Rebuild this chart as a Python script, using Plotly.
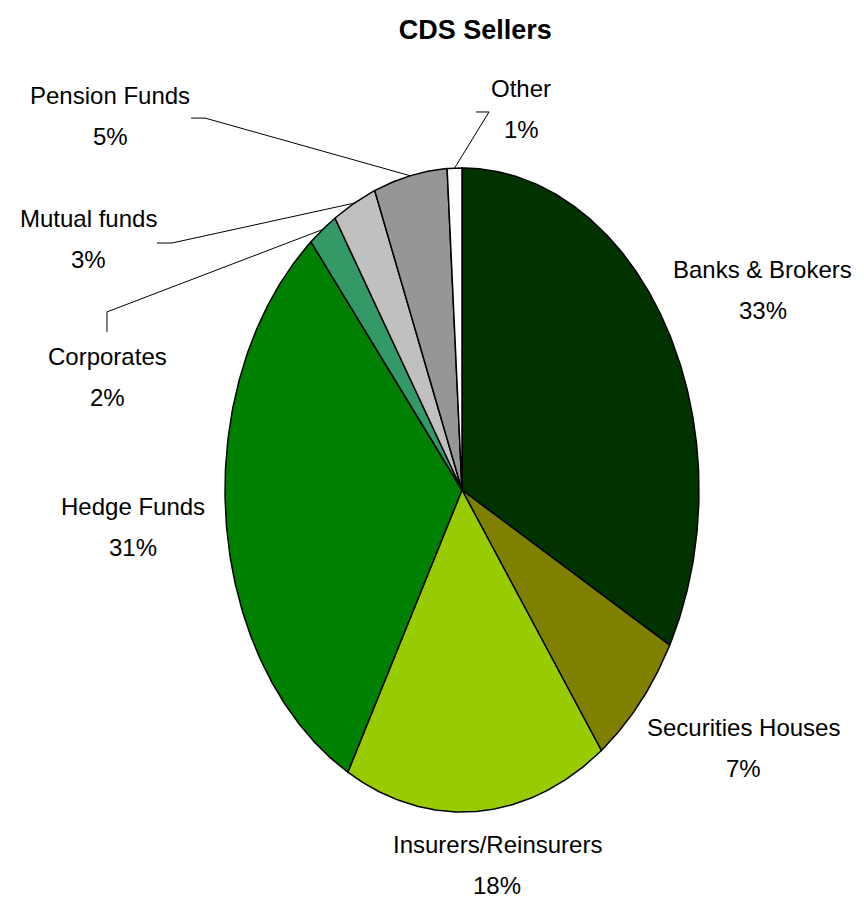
import numpy as np
import plotly.graph_objects as go

# Share of CDS protection sold, by seller type (percent)
categories = ["Banks & Brokers", "Securities Houses", "Insurers/Reinsurers", "Hedge Funds",
              "Corporates", "Mutual funds", "Pension Funds", "Other"]
shares = [33, 7, 18, 31, 2, 3, 5, 1]
colors = ["#003300", "#808000", "#99CC00", "#008000",
          "#339966", "#C0C0C0", "#969696", "#FFFFFF"]

# Label anchor (data units of the unit pie) and optional leader-line elbow
label_pos = {
    "Banks & Brokers": (1.27, 0.62),
    "Securities Houses": (1.186, -0.80),
    "Insurers/Reinsurers": (0.148, -1.165),
    "Hedge Funds": (-1.388, -0.115),
    "Corporates": (-1.494, 0.35),
    "Mutual funds": (-1.578, 0.778),
    "Pension Funds": (-1.485, 1.163),
    "Other": (0.249, 1.182),
}
leader_elbow = {
    "Pension Funds": [(-1.143, 1.155), (-1.084, 1.155)],
    "Mutual funds": [(-1.287, 0.767), (-1.224, 0.767)],
    "Corporates": [(-1.498, 0.491), (-1.498, 0.553)],
    "Other": [(0.059, 1.174), (0.114, 1.174)],
}

FONT = "Liberation Sans Narrow, Arial Narrow, Liberation Sans, Arial, sans-serif"
LABEL_SIZE = 24
LINE_GAP = 20.5  # px between label centre and each of its two lines

fig = go.Figure()
total = float(sum(shares))
start = 0.0
mid_angles = {}
for name, val, col in zip(categories, shares, colors):
    a0 = 2 * np.pi * start / total
    a1 = 2 * np.pi * (start + val) / total
    t = np.linspace(a0, a1, max(8, int(val * 6)))
    xs = np.concatenate([[0.0], np.sin(t), [0.0]])
    ys = np.concatenate([[0.0], np.cos(t), [0.0]])
    fig.add_trace(go.Scatter(
        x=xs, y=ys, mode="lines", fill="toself", fillcolor=col,
        line=dict(color="black", width=1.5), hoverinfo="skip", showlegend=False,
    ))
    mid_angles[name] = 2 * np.pi * (start + val / 2) / total
    start += val

# Leader lines from slice midpoints to labels
for name, elbow in leader_elbow.items():
    a = mid_angles[name]
    px, py = zip(*elbow)
    fig.add_trace(go.Scatter(
        x=list(px) + [np.sin(a)], y=list(py) + [np.cos(a)], mode="lines",
        line=dict(color="black", width=1), hoverinfo="skip", showlegend=False,
    ))

for name, val in zip(categories, shares):
    lx, ly = label_pos[name]
    for txt, shift in ((name, LINE_GAP), (f"{val}%", -LINE_GAP)):
        fig.add_annotation(
            x=lx, y=ly, yshift=shift, text=txt, showarrow=False,
            font=dict(family=FONT, size=LABEL_SIZE, color="black"),
            xanchor="center", yanchor="middle", align="center",
        )

fig.update_layout(
    width=864, height=901,
    margin=dict(l=0, r=0, t=0, b=0),
    paper_bgcolor="white", plot_bgcolor="white",
    title=dict(text="<b>CDS Sellers</b>", x=0.55, xanchor="center", y=0.967, yanchor="middle",
               font=dict(family=FONT, size=27, color="black")),
    xaxis=dict(range=[-462 / 237, (864 - 462) / 237], visible=False, fixedrange=True),
    yaxis=dict(range=[-(901 - 490) / 322, 490 / 322], visible=False, fixedrange=True),
    showlegend=False,
)

fig.write_html("out.html")
